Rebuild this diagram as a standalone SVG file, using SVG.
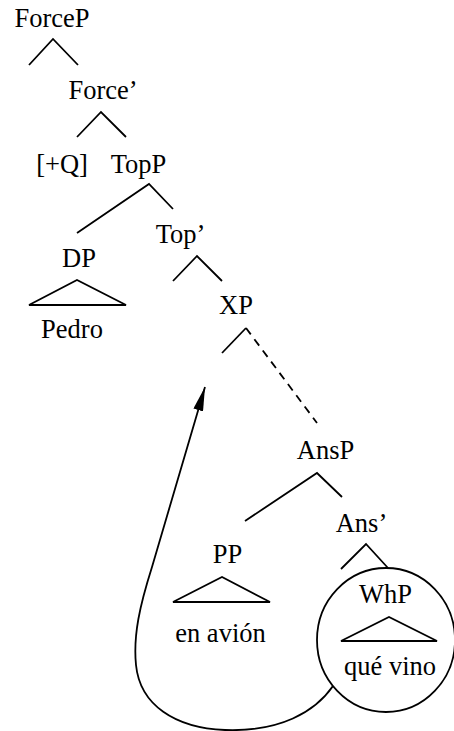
<svg xmlns="http://www.w3.org/2000/svg" width="454" height="731" viewBox="0 0 454 731">
<style>
text{font-size:26.5px;fill:#000;text-anchor:middle}
.e{stroke:#000;stroke-width:1.8;fill:none;stroke-linecap:butt}
.d{stroke-dasharray:8,6}
</style>
<defs>
<marker id="ah" markerUnits="userSpaceOnUse" markerWidth="24" markerHeight="10" refX="24" refY="5" orient="auto">
<path d="M0,0 L24,5 L0,10 z" fill="#000"/>
</marker>
</defs>
<rect width="454" height="731" fill="#fff"/>
<g font-family="Liberation Serif, DejaVu Serif, serif">
<g id="ForceP"><text x="52" y="27">ForceP</text></g>
<g id="Force1"><text x="103" y="99">Force’</text></g>
<g id="Q"><text x="62" y="173">[+Q]</text></g>
<g id="TopP"><text x="138.5" y="173">TopP</text></g>
<g id="DP"><text x="79" y="267">DP</text><path class="e" d="M29,305 L77,280 L126,305 Z"/><text x="72" y="338">Pedro</text></g>
<g id="Top1"><text x="180.5" y="243">Top’</text></g>
<g id="XP"><text x="236" y="314">XP</text></g>
<g id="AnsP"><text x="325.5" y="459">AnsP</text></g>
<g id="Ans1"><text x="361.5" y="532">Ans’</text></g>
<g id="PP"><text x="227.5" y="563">PP</text><path class="e" d="M173,602 L222,577 L270,602 Z"/><text x="220.5" y="642">en avión</text></g>
<g id="WhP"><ellipse class="e" cx="386" cy="640" rx="69" ry="72"/><text x="385.5" y="603">WhP</text><path class="e" d="M341,641 L389,617 L437,641 Z"/><text x="390" y="675">qué vino</text></g>
</g>
<g id="connectors">
<path class="e" d="M29,65 L53,39 L78,65"/>
<path class="e" d="M77,137 L101,112 L126,137"/>
<path class="e" d="M77,233 L149,184 L173,209"/>
<path class="e" d="M173,281 L197,256 L222,281"/>
<path class="e" d="M222,353 L246,328"/>
<path class="e d" d="M246,328 L317,423"/>
<path class="e" d="M245,521 L317,473 L342,497"/>
<path class="e" d="M341,569 L366,544 L388,568"/>
<path class="e" marker-end="url(#ah)" d="M333,686 C315,712 280,732 225,730 C175,728 140,705 136,665 C133,635 140,605 152,567 L205,387"/>
</g>
</svg>
